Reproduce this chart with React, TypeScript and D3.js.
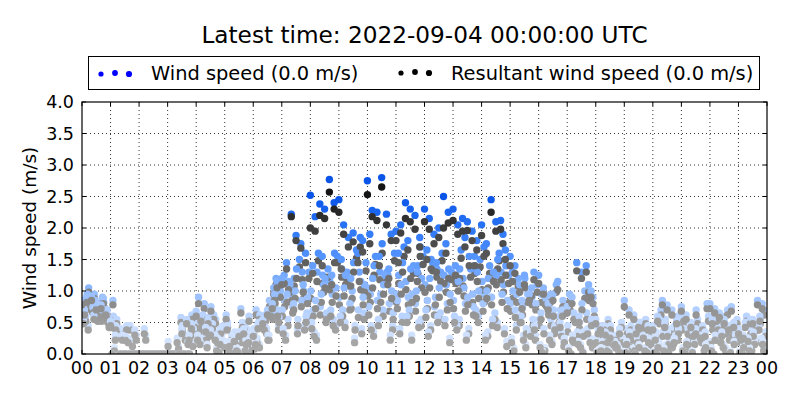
import React from "react";
import * as d3 from "d3";

// ---------- data ----------
const titleText = "Latest time: 2022-09-04 00:00:00 UTC";
const wsLegend = "Wind speed (0.0 m/s)";
const rwsLegend = "Resultant wind speed (0.0 m/s)";
const yLabel = "Wind speed (m/s)";
const hourLabels = ["00","01","02","03","04","05","06","07","08","09","10","11","12","13","14","15","16","17","18","19","20","21","22","23","00"];
const yTicks = [0, 0.5, 1, 1.5, 2, 2.5, 3, 3.5, 4];

// latest day, 10-minute samples
const ws1 = [
  0.85,0.90,0.92,0.80,0.78,0.70, 0.52,0.30,0.00,0.00,0.00,0.00, 0,0,0,0,0,0, 0.00,0.00,0.25,0.40,0.55,0.48,
  0.68,0.60,0.42,0.38,0.30,0.22, 0.15,0.20,0.28,0.35,0.40,0.25, 0.35,0.48,0.55,0.70,0.80,1.15, 1.20,1.45,2.22,1.88,1.75,1.60,
  2.52,2.18,2.38,2.30,2.77,2.40, 2.45,2.05,1.85,1.92,1.60,1.80, 2.75,2.28,2.25,2.80,2.22,1.90, 1.95,2.05,2.40,2.30,2.20,1.85,
  2.30,2.15,1.90,2.00,2.50,2.25, 2.30,2.05,2.15,2.10,1.95,1.80, 2.05,1.75,2.45,2.10,2.12,1.65, 1.55,1.40,1.10,1.25,0.95,1.30,
  1.25,1.05,0.80,0.95,1.15,0.70, 0.75,0.90,1.45,1.30,1.40,1.00, 0.55,0.45,0.35,0.30,0.20,0.40, 0.85,0.70,0.62,0.50,0.30,0.45,
  0.45,0.60,0.85,0.78,0.70,0.55, 0.75,0.62,0.50,0.40,0.30,0.35, 0.80,0.72,0.65,0.55,0.45,0.50, 0.40,0.30,0.25,0.55,0.85,0.80,
];
const rws1 = [
  0.78,0.82,0.85,0.70,0.72,0.62, 0.45,0.22,0.00,0.00,0.00,0.00, 0,0,0,0,0,0, 0.00,0.00,0.18,0.32,0.48,0.40,
  0.60,0.52,0.35,0.30,0.22,0.15, 0.10,0.12,0.20,0.28,0.32,0.18, 0.28,0.40,0.48,0.62,0.72,1.05, 1.10,1.35,2.18,1.80,1.68,1.45,
  2.00,1.95,2.20,2.15,2.57,2.30, 2.25,1.90,1.70,1.78,1.45,1.62, 2.53,2.18,2.12,2.65,2.05,1.80, 1.80,1.92,2.15,2.10,1.98,1.70,
  2.10,1.98,1.75,1.85,2.00,2.08, 2.12,1.90,1.95,1.96,1.80,1.65, 1.88,1.60,2.25,1.95,1.98,1.50, 1.40,1.28,0.98,1.10,0.85,1.18,
  1.12,0.95,0.70,0.85,1.02,0.60, 0.65,0.80,1.32,1.20,1.30,0.90, 0.48,0.38,0.30,0.25,0.15,0.32, 0.75,0.62,0.55,0.42,0.25,0.38,
  0.38,0.52,0.78,0.70,0.62,0.48, 0.68,0.55,0.42,0.32,0.25,0.28, 0.72,0.65,0.58,0.48,0.38,0.42, 0.32,0.25,0.20,0.48,0.78,0.72,
];
// older days, 20-minute samples
const ws2 = [
  0.70,0.62,0.88, 0.85,0.30,0.00, 0,0,0, 0.00,0.00,0.30, 0.90,0.55,0.25, 0.45,0.10,0.22, 0.20,0.62,0.95, 1.25,0.80,1.10,
  1.40,1.55,1.25, 1.50,1.20,1.85, 1.90,1.55,1.35, 1.60,1.80,1.30, 1.65,1.45,1.75, 1.40,1.85,1.55, 1.70,1.30,1.90, 1.30,0.85,1.05,
  0.65,0.95,0.50, 0.95,0.60,1.10, 0.40,0.25,0.15, 0.20,0.40,0.55, 0.30,0.50,0.25, 0.60,0.35,0.45, 0.55,0.35,0.75, 0.30,0.55,0.60,
];
const rws2 = [
  0.62,0.55,0.80, 0.78,0.22,0.00, 0,0,0, 0.00,0.00,0.22, 0.80,0.48,0.18, 0.38,0.05,0.15, 0.15,0.55,0.85, 1.12,0.70,0.98,
  1.28,1.40,1.10, 1.35,1.08,1.70, 1.75,1.40,1.20, 1.45,1.65,1.15, 1.50,1.30,1.60, 1.25,1.70,1.40, 1.55,1.15,1.75, 1.15,0.72,0.92,
  0.55,0.82,0.42, 0.82,0.50,0.98, 0.32,0.18,0.10, 0.15,0.32,0.48, 0.22,0.42,0.18, 0.52,0.28,0.38, 0.48,0.28,0.68, 0.22,0.48,0.52,
];
const ws3 = [
  0.95,0.80,0.66, 0.45,0.28,0.38, 0.40,0.00,0.00, 0.00,0.45,0.62, 0.50,0.75,0.40, 0.05,0.35,0.60, 0.50,0.30,0.70, 0.95,1.35,0.60,
  0.85,1.20,1.60, 1.05,1.45,0.90, 1.20,1.75,1.00, 1.10,1.35,1.70, 1.20,1.05,1.35, 1.15,0.90,1.30, 1.00,1.25,1.40, 0.70,1.20,0.45,
  0.40,0.70,0.85, 0.30,0.80,0.55, 0.10,0.45,0.05, 0.35,0.15,0.25, 0.15,0.35,0.60, 0.20,0.70,0.15, 0.30,0.50,0.20, 0.15,0.35,0.20,
];
const rws3 = [
  0.88,0.72,0.58, 0.38,0.22,0.30, 0.32,0.00,0.00, 0.00,0.38,0.55, 0.42,0.68,0.32, 0.02,0.28,0.52, 0.42,0.22,0.60, 0.82,1.20,0.50,
  0.72,1.05,1.45, 0.92,1.30,0.78, 1.05,1.60,0.88, 0.95,1.20,1.55, 1.05,0.90,1.20, 1.00,0.78,1.15, 0.88,1.10,1.25, 0.58,1.05,0.38,
  0.32,0.60,0.75, 0.22,0.70,0.45, 0.05,0.38,0.02, 0.28,0.10,0.18, 0.10,0.28,0.52, 0.15,0.62,0.10, 0.22,0.42,0.15, 0.10,0.28,0.15,
];
const ws4 = [
  0.55,0.74,0.90, 0.00,0.00,0.00, 0,0,0, 0.00,0.12,0.20, 0.30,0.15,0.10, 0.62,0.20,0.08, 0.12,0.45,1.05, 0.40,0.75,1.30,
  0.50,0.95,0.70, 0.60,0.80,1.30, 0.75,0.55,1.25, 0.85,0.60,1.00, 0.70,0.90,0.55, 0.60,1.05,0.75, 0.80,0.55,0.95, 0.25,0.60,0.35,
  0.15,0.30,0.60, 0.10,0.20,0.40, 0.05,0.10,0.30, 0.05,0.00,0.10, 0.05,0.10,0.20, 0.10,0.05,0.25, 0.10,0.25,0.05, 0.05,0.10,0.45,
];
const rws4 = [
  0.48,0.65,0.82, 0,0,0, 0,0,0, 0.00,0.08,0.15, 0.22,0.10,0.05, 0.55,0.15,0.05, 0.08,0.38,0.95, 0.32,0.65,1.18,
  0.40,0.82,0.60, 0.50,0.70,1.15, 0.62,0.45,1.10, 0.72,0.50,0.88, 0.58,0.78,0.45, 0.50,0.92,0.62, 0.68,0.45,0.82, 0.18,0.50,0.28,
  0.10,0.22,0.50, 0.05,0.15,0.32, 0.02,0.05,0.22, 0.02,0.00,0.05, 0.02,0.05,0.15, 0.05,0.02,0.18, 0.05,0.18,0.02, 0.02,0.05,0.38,
];
const ws5 = [
  1.05,0.68,0.58, 0.40,0.45,0.30, 0.30,0.00,0.00, 0.00,0.00,0.40, 0.62,0.48,0.22, 0.30,0.72,0.18, 0.62,0.85,0.58, 1.15,0.55,0.90,
  1.30,0.65,1.05, 1.25,0.45,1.10, 1.40,1.10,0.65, 1.45,0.95,1.20, 1.50,1.30,0.95, 1.35,1.55,1.00, 1.20,1.50,0.85, 0.95,0.40,0.80,
  0.90,0.45,0.25, 0.65,0.35,0.90, 0.20,0.30,0.50, 0.45,0.50,0.20, 0.55,0.20,0.40, 0.40,0.55,0.80, 0.60,0.40,0.30, 0.50,0.20,0.70,
];
const rws5 = [
  0.98,0.60,0.50, 0.32,0.38,0.22, 0.22,0.00,0.00, 0.00,0.00,0.32, 0.55,0.40,0.15, 0.22,0.65,0.12, 0.55,0.75,0.50, 1.02,0.45,0.80,
  1.15,0.55,0.92, 1.10,0.38,0.98, 1.25,0.95,0.55, 1.30,0.82,1.05, 1.35,1.15,0.82, 1.20,1.40,0.88, 1.05,1.35,0.72, 0.82,0.32,0.70,
  0.78,0.38,0.18, 0.55,0.28,0.80, 0.15,0.22,0.42, 0.38,0.42,0.15, 0.48,0.15,0.32, 0.32,0.48,0.72, 0.52,0.32,0.22, 0.42,0.15,0.62,
];
const ws6 = [
  0.60,0.85,0.72, 0.10,0.00,0.00, 0,0,0, 0.00,0.58,0.35, 0.20,0.35,0.05, 0.10,0.05,0.32, 0.25,0.40,1.20, 0.30,1.00,0.45,
  0.35,1.10,0.55, 0.70,1.00,0.40, 0.45,0.95,0.30, 0.40,0.70,0.50, 0.35,0.60,0.80, 0.45,0.30,0.70, 0.30,0.65,0.40, 0.10,0.30,0.55,
  0.05,0.20,0.35, 0.00,0.15,0.25, 0.00,0.05,0.10, 0.10,0.25,0.05, 0.00,0.15,0.30, 0.00,0.20,0.10, 0.00,0.15,0.35, 0.00,0.10,0.25,
];
const rws6 = [
  0.52,0.78,0.65, 0.05,0.00,0.00, 0,0,0, 0.00,0.50,0.28, 0.15,0.28,0.02, 0.05,0.02,0.25, 0.18,0.32,1.10, 0.22,0.88,0.38,
  0.28,0.98,0.45, 0.60,0.88,0.32, 0.38,0.82,0.22, 0.32,0.60,0.42, 0.28,0.50,0.70, 0.38,0.22,0.60, 0.22,0.55,0.32, 0.05,0.22,0.45,
  0.02,0.15,0.28, 0.00,0.10,0.18, 0.00,0.02,0.05, 0.05,0.18,0.02, 0.00,0.10,0.22, 0.00,0.15,0.05, 0.00,0.10,0.28, 0.00,0.05,0.18,
];
const ws7 = [
  0.80,0.65,0.50, 0.35,0.25,0.00, 0,0,0, 0.00,0.30,0.50, 0.80,0.62,0.45, 0.25,0.50,0.15, 0.55,0.70,1.00, 1.10,1.50,1.30,
  1.60,1.35,1.55, 1.30,1.65,1.45, 1.55,1.25,1.60, 1.70,1.40,1.55, 1.45,1.60,1.30, 1.65,1.35,1.50, 1.40,1.60,1.25, 1.20,0.95,1.10,
  0.85,1.10,0.75, 0.60,1.00,0.70, 0.45,0.30,0.25, 0.30,0.45,0.35, 0.70,0.40,0.50, 0.35,0.45,0.60, 0.45,0.70,0.55, 0.60,0.45,0.35,
];
const rws7 = [
  0.72,0.58,0.42, 0.28,0.18,0.00, 0,0,0, 0.00,0.22,0.42, 0.72,0.55,0.38, 0.18,0.42,0.10, 0.48,0.60,0.90, 0.98,1.38,1.20,
  1.48,1.22,1.45, 1.18,1.52,1.32, 1.42,1.12,1.48, 1.55,1.28,1.42, 1.32,1.48,1.18, 1.52,1.22,1.38, 1.28,1.48,1.12, 1.08,0.82,0.98,
  0.75,0.98,0.65, 0.50,0.88,0.60, 0.38,0.22,0.18, 0.22,0.38,0.28, 0.62,0.32,0.42, 0.28,0.38,0.52, 0.38,0.62,0.48, 0.52,0.38,0.28,
];
const ws8 = [
  0.65,0.75,0.60, 0.50,0.40,0.45, 0.00,0.00,0.00, 0.20,0.00,0.00, 0.45,0.30,0.55, 0.20,0.35,0.45, 0.40,0.55,0.65, 0.70,0.95,0.85,
  1.00,0.75,1.15, 0.90,1.20,0.70, 1.05,0.85,1.30, 0.95,1.15,0.80, 1.10,0.75,1.25, 0.85,1.20,0.95, 1.15,0.90,1.30, 0.80,0.60,0.95,
  0.55,0.75,0.45, 0.45,0.35,0.65, 0.25,0.40,0.15, 0.20,0.10,0.35, 0.25,0.35,0.15, 0.45,0.25,0.30, 0.20,0.40,0.30, 0.35,0.25,0.45,
];
const rws8 = [
  0.58,0.68,0.52, 0.42,0.32,0.38, 0.00,0.00,0.00, 0.12,0.00,0.00, 0.38,0.22,0.48, 0.12,0.28,0.38, 0.32,0.48,0.55, 0.60,0.85,0.75,
  0.88,0.62,1.02, 0.78,1.08,0.58, 0.92,0.72,1.18, 0.82,1.02,0.68, 0.98,0.62,1.12, 0.72,1.08,0.82, 1.02,0.78,1.18, 0.68,0.50,0.82,
  0.45,0.62,0.35, 0.35,0.28,0.55, 0.18,0.32,0.10, 0.15,0.05,0.28, 0.18,0.28,0.10, 0.38,0.18,0.22, 0.15,0.32,0.22, 0.28,0.18,0.38,
];
const ws9 = [
  0.45,0.60,0.70, 0.55,0.00,0.00, 0,0,0, 0.00,0.00,0.18, 0.25,0.40,0.30, 0.10,0.25,0.05, 0.15,0.30,0.45, 0.55,0.40,0.65,
  0.30,0.60,0.45, 0.50,0.25,0.65, 0.35,0.70,0.45, 0.60,0.30,0.55, 0.45,0.65,0.25, 0.55,0.40,0.60, 0.35,0.50,0.20, 0.45,0.15,0.30,
  0.10,0.40,0.20, 0.25,0.05,0.15, 0.10,0.20,0.05, 0.15,0.30,0.10, 0.20,0.05,0.30, 0.15,0.35,0.20, 0.30,0.10,0.25, 0.20,0.30,0.10,
];
const rws9 = [
  0.38,0.52,0.62, 0.48,0.00,0.00, 0,0,0, 0.00,0.00,0.12, 0.18,0.32,0.22, 0.05,0.18,0.02, 0.10,0.22,0.38, 0.45,0.32,0.55,
  0.22,0.50,0.38, 0.42,0.18,0.55, 0.28,0.60,0.38, 0.50,0.22,0.45, 0.38,0.55,0.18, 0.45,0.32,0.50, 0.28,0.42,0.12, 0.38,0.10,0.22,
  0.05,0.32,0.12, 0.18,0.02,0.10, 0.05,0.12,0.02, 0.10,0.22,0.05, 0.12,0.02,0.22, 0.10,0.28,0.12, 0.22,0.05,0.18, 0.12,0.22,0.05,
];
const ws10 = [
  0.75,0.95,0.82, 0.60,0.35,0.20, 0,0,0, 0,0,0, 0.40,0.58,0.35, 0.50,0.28,0.40, 0.70,0.60,0.90, 0.85,1.20,1.00,
  0.70,1.25,0.95, 1.35,0.85,1.15, 0.95,1.30,0.80, 1.25,0.90,1.40, 0.85,1.35,1.10, 1.25,0.80,1.40, 0.95,1.30,1.10, 1.00,0.75,0.90,
  0.95,0.55,0.70, 0.80,0.50,0.95, 0.35,0.55,0.30, 0.40,0.20,0.45, 0.35,0.55,0.45, 0.50,0.40,0.30, 0.45,0.60,0.40, 0.25,0.40,0.55,
];
const rws10 = [
  0.68,0.88,0.75, 0.52,0.28,0.12, 0,0,0, 0,0,0, 0.32,0.50,0.28, 0.42,0.20,0.32, 0.62,0.52,0.80, 0.75,1.08,0.88,
  0.60,1.12,0.82, 1.22,0.72,1.02, 0.82,1.18,0.68, 1.12,0.78,1.28, 0.72,1.22,0.98, 1.12,0.68,1.28, 0.82,1.18,0.98, 0.88,0.62,0.78,
  0.82,0.45,0.60, 0.70,0.40,0.85, 0.28,0.48,0.22, 0.32,0.12,0.38, 0.28,0.48,0.38, 0.42,0.32,0.22, 0.38,0.52,0.32, 0.18,0.32,0.48,
];
// days oldest first, with sampling interval and start offset (minutes)
const dayWs = [ws10, ws9, ws8, ws7, ws6, ws5, ws4, ws3, ws2, ws1];
const dayRws = [rws10, rws9, rws8, rws7, rws6, rws5, rws4, rws3, rws2, rws1];
const dayIntervalMin = [20, 20, 20, 20, 20, 20, 20, 20, 20, 10];
const dayOffsetMin = [6, 13, 1, 17, 8, 14, 3, 11, 5, 0];

// ---------- layout ----------
const W = 800, H = 400;
const M = { left: 82, right: 767, top: 102, bottom: 354 };
const FONT = "DejaVu Sans, sans-serif";

const x = d3.scaleLinear().domain([0, 24]).range([M.left, M.right]);
const y = d3.scaleLinear().domain([0, 4]).range([M.bottom, M.top]);
const wsColor = d3.scaleLinear<string>()
  .domain([0, 0.5, 1, 1.5, 2, 2.5])
  .range(["#e0ecff", "#c4daff", "#93bcff", "#5796ff", "#2a74f5", "#0a55e8"])
  .clamp(true);
const rwsColor = d3.scaleLinear<string>()
  .domain([0, 0.5, 1, 1.5, 2, 2.5])
  .range(["#aaaaaa", "#9e9e9e", "#7e7e7e", "#5c5c5c", "#3c3c3c", "#141414"])
  .clamp(true);

export default function App() {
  const pts: React.ReactNode[] = [];
  dayWs.forEach((ws, d) => {
    const rws = dayRws[d];
    const iv = dayIntervalMin[d], off = dayOffsetMin[d];
    ws.forEach((v, i) => {
      const t = (i * iv + off) / 60;
      pts.push(<circle key={`w${d}-${i}`} cx={x(t)} cy={y(v)} r={3.7} fill={wsColor(v)} />);
    });
    rws.forEach((v, i) => {
      const t = (i * iv + off) / 60;
      pts.push(<circle key={`r${d}-${i}`} cx={x(t)} cy={y(v)} r={3.7} fill={rwsColor(v)} />);
    });
  });

  return (
    <svg width={W} height={H} style={{ position: "absolute", left: 0, top: 0, background: "#fff" }} fontFamily={FONT}>
      <rect x={0} y={0} width={W} height={H} fill="#fff" />
      <text x={(M.left + M.right) / 2} y={43} textAnchor="middle" fontSize={23.2}>{titleText}</text>
      {/* legend */}
      <rect x={88.5} y={56.5} width={671} height={33} fill="#fff" stroke="#000" strokeWidth={1} />
      <circle cx={101} cy={74} r={2.6} fill="#0000ff" />
      <circle cx={115} cy={73} r={2.9} fill="#0000ff" />
      <circle cx={129} cy={74} r={3.1} fill="#0000ff" />
      <text x={151} y={80} fontSize={19.4}>{wsLegend}</text>
      <circle cx={401} cy={73} r={2.6} fill="#000" />
      <circle cx={415} cy={72} r={2.9} fill="#000" />
      <circle cx={429} cy={73} r={3.1} fill="#000" />
      <text x={451} y={80} fontSize={19.4}>{rwsLegend}</text>

      {/* grid */}
      <g stroke="#000" strokeWidth={0.8} strokeDasharray="1,3">
        {hourLabels.map((_, i) => (i > 0 && i < 24 ? <line key={`gx${i}`} x1={x(i)} x2={x(i)} y1={M.top} y2={M.bottom} /> : null))}
        {yTicks.map((v) => (v > 0 && v < 4 ? <line key={`gy${v}`} x1={M.left} x2={M.right} y1={y(v)} y2={y(v)} /> : null))}
      </g>

      <defs>
        <clipPath id="plotClip">
          <rect x={M.left} y={M.top} width={M.right - M.left} height={M.bottom - M.top} />
        </clipPath>
      </defs>
      <g clipPath="url(#plotClip)">{pts}</g>

      {/* ticks */}
      <g stroke="#000" strokeWidth={1}>
        {hourLabels.map((_, i) => (
          <g key={`tx${i}`}>
            <line x1={x(i)} x2={x(i)} y1={M.bottom} y2={M.bottom - 4} />
            <line x1={x(i)} x2={x(i)} y1={M.top} y2={M.top + 4} />
          </g>
        ))}
        {yTicks.map((v) => (
          <g key={`ty${v}`}>
            <line x1={M.left} x2={M.left + 4} y1={y(v)} y2={y(v)} />
            <line x1={M.right} x2={M.right - 4} y1={y(v)} y2={y(v)} />
          </g>
        ))}
      </g>
      <rect x={M.left} y={M.top} width={M.right - M.left} height={M.bottom - M.top} fill="none" stroke="#000" strokeWidth={1.2} />

      {/* tick labels */}
      {hourLabels.map((lab, i) => (
        <text key={`lx${i}`} x={x(i)} y={374} textAnchor="middle" fontSize={17.5}>{lab}</text>
      ))}
      {yTicks.map((v) => (
        <text key={`ly${v}`} x={74} y={y(v) + 6} textAnchor="end" fontSize={17.5}>{v.toFixed(1)}</text>
      ))}
      <text transform={`translate(36,${(M.top + M.bottom) / 2}) rotate(-90)`} textAnchor="middle" fontSize={18.5}>{yLabel}</text>
    </svg>
  );
}
